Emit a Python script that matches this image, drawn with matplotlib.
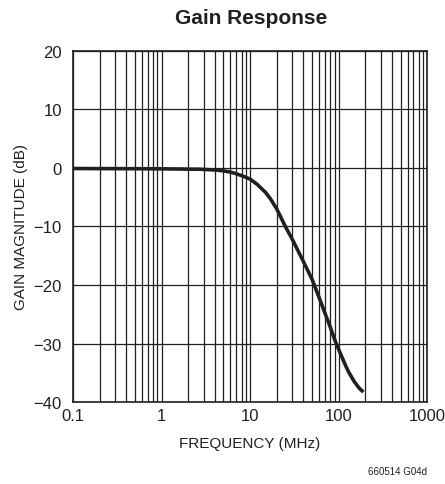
import matplotlib
matplotlib.use("Agg")
import matplotlib.pyplot as plt
from matplotlib.ticker import FixedLocator, LogLocator, NullFormatter

plt.rcParams['font.family'] = ['Liberation Sans Narrow', 'Liberation Sans', 'DejaVu Sans']

# valori
freq_mhz = [0.1, 0.3, 1, 2, 2.7, 4, 5, 6, 7, 8, 10, 12, 15, 17, 20, 25, 30, 40, 50,
            60, 70, 80, 90, 100, 120, 130, 150, 170, 190]
gain_db = [-0.1, -0.12, -0.15, -0.2, -0.22, -0.35, -0.5, -0.7, -1.0, -1.3, -1.9, -2.8, -4.2,
           -5.3, -7.0, -10.0, -12.2, -16.0, -19.0, -22.1, -24.8, -27.1, -29.3, -31.0,
           -33.8, -34.9, -36.5, -37.6, -38.3]
x_ticks = [0.1, 1, 10, 100, 1000]
x_labels = ['0.1', '1', '10', '100', '1000']
y_ticks = [-40, -30, -20, -10, 0, 10, 20]


def main():
    fig = plt.figure(figsize=(4.45, 4.85), dpi=100)
    ax = fig.add_axes([0.164, 0.169, 0.796, 0.724])
    ax.plot(freq_mhz, gain_db, color='#231f20', lw=2.6, solid_capstyle='butt',
            solid_joinstyle='round', zorder=3)
    ax.set_xscale('log')
    ax.set_xlim(0.1, 1000)
    ax.set_ylim(-40, 20)
    ax.xaxis.set_major_locator(FixedLocator(x_ticks))
    ax.set_xticklabels(x_labels)
    ax.xaxis.set_minor_locator(LogLocator(base=10, subs=range(2, 10)))
    ax.xaxis.set_minor_formatter(NullFormatter())
    ax.set_yticks(y_ticks)
    ax.set_yticklabels([str(v).replace('-', '\u2212') for v in y_ticks])
    ax.grid(True, which='both', axis='x', color='#231f20', lw=0.9)
    ax.grid(True, which='major', axis='y', color='#231f20', lw=0.9)
    ax.tick_params(which='both', length=0, labelsize=12, colors='#231f20')
    ax.tick_params(axis='y', pad=8)
    ax.tick_params(axis='x', pad=4)
    for s in ax.spines.values():
        s.set_color('#231f20')
        s.set_linewidth(1.2)
    ax.set_xlabel('FREQUENCY (MHz)', fontsize=11, color='#231f20', labelpad=10)
    ax.set_ylabel('GAIN MAGNITUDE (dB)', fontsize=11, color='#231f20', labelpad=4)
    fig.text(0.565, 0.962, 'Gain Response', ha='center', va='center', fontsize=15,
             fontweight='bold', color='#231f20')
    fig.text(0.96, 0.027, '660514 G04d', ha='right', va='center', fontsize=7, color='#231f20')
    fig.savefig('out.png', dpi=100)


if __name__ == "__main__":
    main()
